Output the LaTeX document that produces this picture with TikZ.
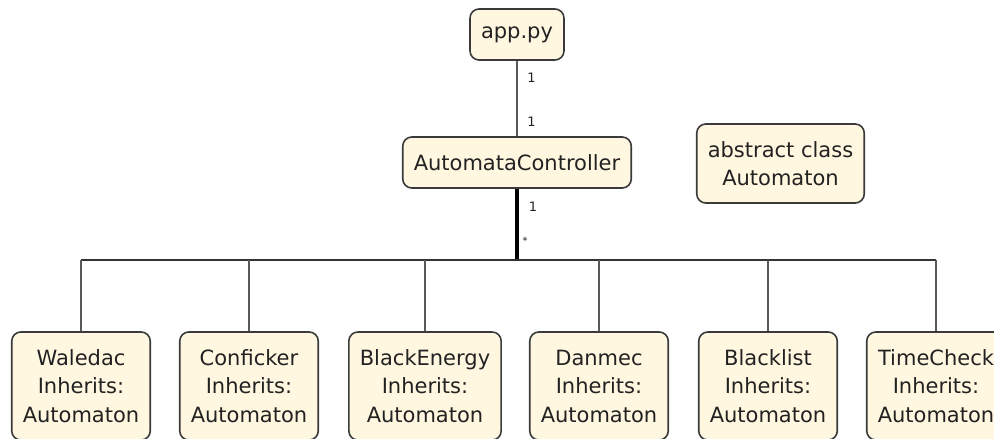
\documentclass[tikz,border=0pt]{standalone}
\usepackage{fontspec}
\setmainfont{DejaVu Sans}
\definecolor{boxfill}{HTML}{FFF7E0}
\definecolor{boxline}{HTML}{3A3A3A}
\definecolor{txt}{HTML}{222222}
\begin{document}
\begin{tikzpicture}[x=1pt,y=-1pt,
  cls/.style={draw=boxline, fill=boxfill, line width=1.6pt, rounded corners=9pt,
    align=center, text=txt, inner xsep=11pt, inner ysep=0pt,
    font=\fontsize{21}{28.5}\selectfont},
  one/.style={cls, minimum height=51pt},
  two/.style={cls, minimum height=79pt},
  three/.style={cls, minimum height=108pt},
  mult/.style={font=\fontsize{13}{15}\selectfont, text=txt, inner sep=0pt},
  assoc/.style={draw=black!65, line width=2pt},
  trunk/.style={draw=black, line width=3.2pt},
  bus/.style={draw=black!80, line width=2.2pt},
  drop/.style={draw=black!65, line width=2pt}]
\useasboundingbox (0,0) rectangle (994,439);
\clip (0,0) rectangle (994,439);

% top of the hierarchy
\node[one] (app) at (517,34.5) {app.py};
\node[one] (ctrl) at (517,162.5) {AutomataController};
\node[two] (abs) at (780.5,163.5) {abstract class\\Automaton};

% automaton implementations
\node[three] (waledac) at (81,386) {Waledac\\Inherits:\\Automaton};
\node[three] (conficker) at (249,386) {Conficker\\Inherits:\\Automaton};
\node[three] (blackenergy) at (425,386) {BlackEnergy\\Inherits:\\Automaton};
\node[three] (danmec) at (599,386) {Danmec\\Inherits:\\Automaton};
\node[three] (blacklist) at (768,386) {Blacklist\\Inherits:\\Automaton};
\node[three] (timecheck) at (936,386) {TimeCheck\\Inherits:\\Automaton};

% app.py -> controller association
\draw[assoc] (app.south) -- (ctrl.north);
\node[mult] (m1) at (531.5,78) {1};
\node[mult] (m2) at (531.5,122) {1};

% controller -> automata composition
\coordinate (busL) at (waledac.north |- 0,260);
\coordinate (busR) at (timecheck.north |- 0,260);
\coordinate (busC) at (ctrl.south |- 0,260);
\draw[trunk] (ctrl.south) -- (busC);
\draw[bus] (busL) -- (busR);
\foreach \n in {waledac,conficker,blackenergy,danmec,blacklist,timecheck}
  \draw[drop] (\n.north |- busC) -- (\n.north);
\node[mult] (m3) at (533,207) {1};
\node[mult, font=\fontsize{10}{12}\selectfont] (m4) at (525,241) {*};
\end{tikzpicture}
\end{document}
